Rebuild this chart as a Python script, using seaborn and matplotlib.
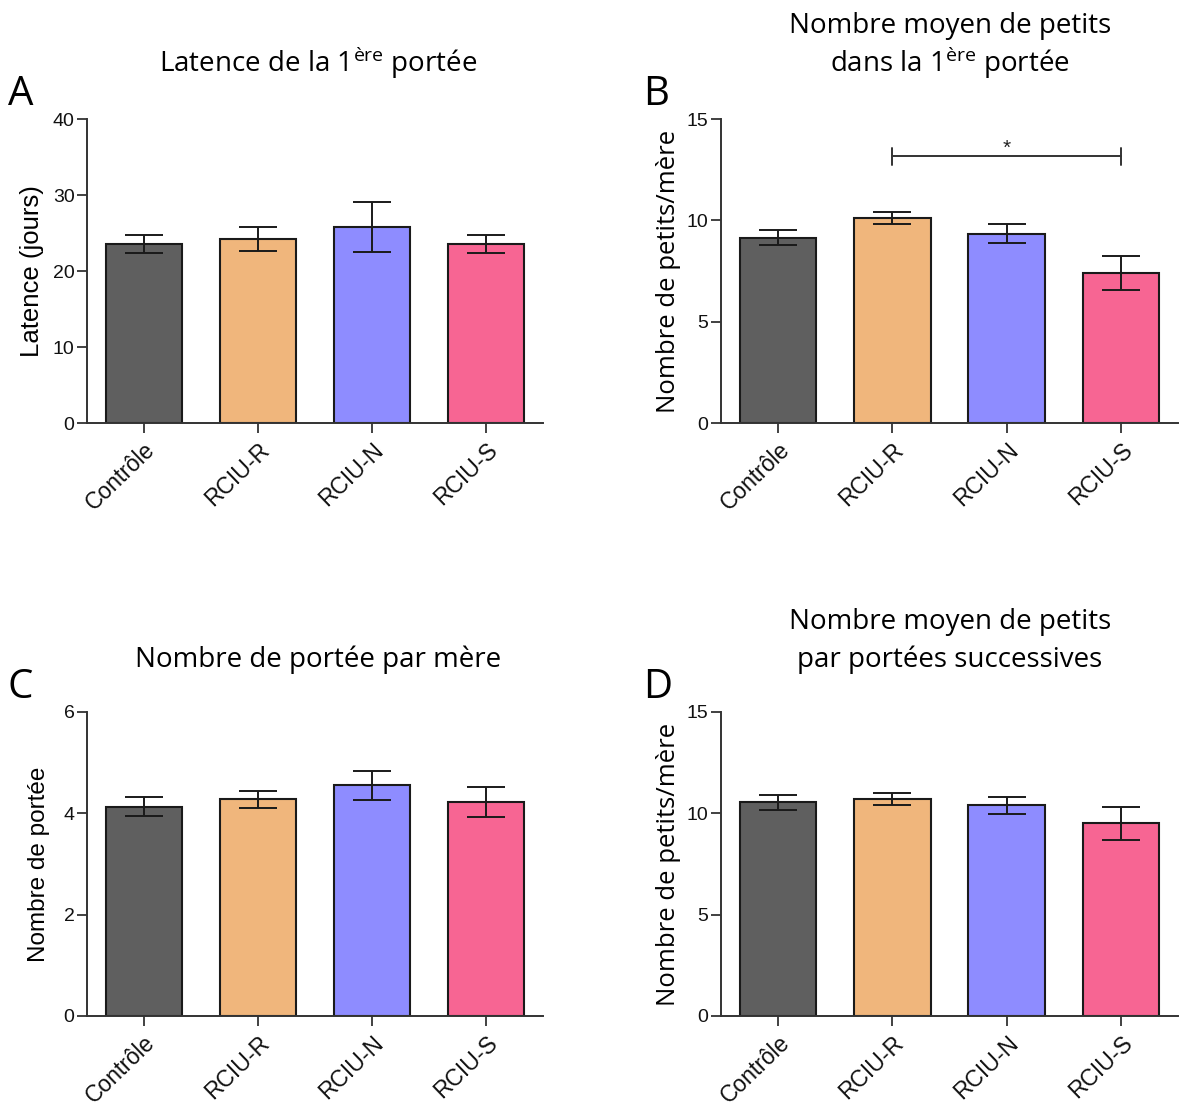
import matplotlib
matplotlib.use("Agg")
import matplotlib.pyplot as plt
import seaborn as sns
import pandas as pd
import numpy as np

# ---------------- data ----------------
groups = ["Contrôle", "RCIU-R", "RCIU-N", "RCIU-S"]
colors = ["#5f5f5f", "#f0b67c", "#8e8cff", "#f76593"]

latence_mean = [23.6, 24.2, 25.8, 23.6]
latence_sem = [1.2, 1.6, 3.3, 1.2]

petits1_mean = [9.15, 10.1, 9.35, 7.4]
petits1_sem = [0.35, 0.3, 0.45, 0.82]

portees_mean = [4.13, 4.28, 4.55, 4.22]
portees_sem = [0.19, 0.17, 0.28, 0.30]

petits_succ_mean = [10.55, 10.7, 10.4, 9.5]
petits_succ_sem = [0.37, 0.30, 0.41, 0.82]

# ---------------- style ----------------
sns.set_theme(style="white")
plt.rcParams["font.family"] = ["Liberation Sans", "DejaVu Sans"]
plt.rcParams["mathtext.default"] = "regular"
plt.rcParams["text.color"] = "black"
plt.rcParams["axes.labelcolor"] = "black"

W, H = 1185, 1109
fig = plt.figure(figsize=(W / 100, H / 100), dpi=100)

TITLE_FONT = ["Open Sans", "DejaVu Sans"]
ARIAL = ["Liberation Sans", "DejaVu Sans"]


def px_axes(left, top, right, bottom):
    return fig.add_axes([left / W, 1 - bottom / H, (right - left) / W, (bottom - top) / H])


def panel(ax, means, sems, ymax, yticks, ylabel, ylabel_font, ylabel_size, ylabel_pad):
    df = pd.DataFrame({"group": groups, "value": means})
    sns.barplot(data=df, x="group", y="value", hue="group", palette=colors,
                order=groups, hue_order=groups, legend=False, width=0.67,
                saturation=1, edgecolor="#1a1a1a", linewidth=1.5,
                errorbar=None, ax=ax)
    ax.errorbar(np.arange(len(groups)), means, yerr=sems, fmt="none",
                ecolor="#1a1a1a", elinewidth=1.4, capsize=14, capthick=1.4, zorder=5)
    ax.set_xlim(-0.5, 3.5)
    ax.set_ylim(0, ymax)
    ax.set_yticks(yticks)
    ax.set_yticklabels([str(t) for t in yticks], fontsize=14)
    ax.set_xticks(range(len(groups)))
    ax.set_xticklabels(groups, fontsize=16.5, rotation=44, ha="right",
                       rotation_mode="anchor")
    ax.set_xlabel("")
    ax.set_ylabel(ylabel, fontsize=ylabel_size, family=ylabel_font, labelpad=ylabel_pad)
    for s in ["top", "right"]:
        ax.spines[s].set_visible(False)
    for s in ["left", "bottom"]:
        ax.spines[s].set_color("#333333")
        ax.spines[s].set_linewidth(1.4)
    ax.tick_params(axis="both", direction="out", length=7, width=1.3,
                   color="#333333", labelcolor="#111111", left=True, bottom=True)
    ax.tick_params(axis="x", pad=4)
    ax.tick_params(axis="y", pad=2)


axA = px_axes(87, 119, 543, 423)
axB = px_axes(721, 119, 1178, 423)
axC = px_axes(87, 712, 543, 1016)
axD = px_axes(721, 712, 1178, 1016)

panel(axA, latence_mean, latence_sem, 40, [0, 10, 20, 30, 40],
      "Latence (jours)", ARIAL, 18.5, 6)
panel(axB, petits1_mean, petits1_sem, 15, [0, 5, 10, 15],
      "Nombre de petits/mère", TITLE_FONT, 18.5, 4)
panel(axC, portees_mean, portees_sem, 6, [0, 2, 4, 6],
      "Nombre de portée", ARIAL, 17.5, 10)
panel(axD, petits_succ_mean, petits_succ_sem, 15, [0, 5, 10, 15],
      "Nombre de petits/mère", TITLE_FONT, 18.5, 4)

# significance bracket in B (RCIU-R vs RCIU-S)
sig_y = 13.15
axB.plot([1, 3], [sig_y, sig_y], color="#333333", lw=1.4)
axB.plot([1, 1], [sig_y - 0.4, sig_y + 0.4], color="#333333", lw=1.4)
axB.plot([3, 3], [sig_y - 0.4, sig_y + 0.4], color="#333333", lw=1.4)
axB.text(2, sig_y - 0.05, "*", ha="center", va="bottom", fontsize=15, color="#222222")

# titles
def ftext(x, y, s, size, **kw):
    fig.text(x / W, 1 - y / H, s, fontsize=size, family=kw.pop("family", TITLE_FONT),
             ha=kw.pop("ha", "center"), va="baseline", color="black", **kw)

TS = 20
ftext(318, 72, r"Latence de la 1$^{ère}$ portée", TS)
ftext(950, 33, "Nombre moyen de petits", TS)
ftext(950, 72, r"dans la 1$^{ère}$ portée", TS)
ftext(318, 667, "Nombre de portée par mère", TS)
ftext(950, 629, "Nombre moyen de petits", TS)
ftext(950, 667, "par portées successives", TS)

# panel letters
ftext(8, 105, "A", 29, ha="left")
ftext(643, 105, "B", 29, ha="left")
ftext(8, 698, "C", 29, ha="left")
ftext(643, 698, "D", 29, ha="left")

fig.savefig("out.png", dpi=100, facecolor="white")
